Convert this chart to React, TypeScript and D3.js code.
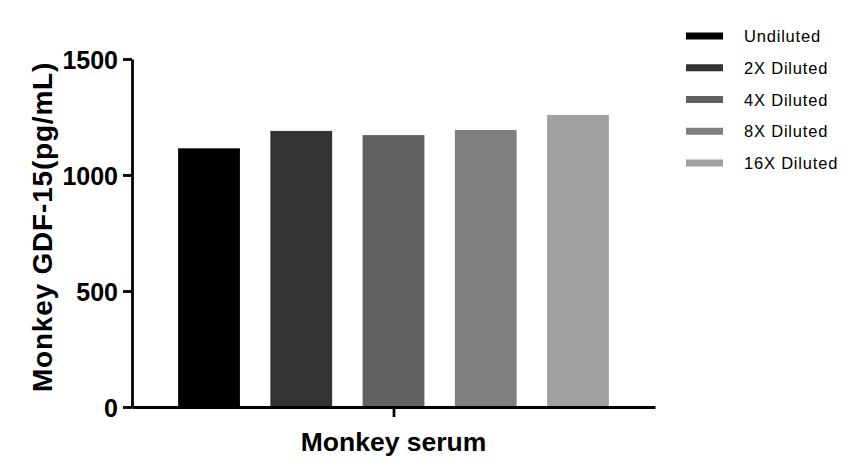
import React, { useEffect, useRef } from 'react';
import * as d3 from 'd3';

const groups = ['Undiluted', '2X Diluted', '4X Diluted', '8X Diluted', '16X Diluted'];
const values = [1115, 1190, 1172, 1194, 1259];
const colors = ['#000000', '#333333', '#616161', '#808080', '#a0a0a3'];
const yTicks = [0, 500, 1000, 1500];
const xTitle = 'Monkey serum';
const yTitle = 'Monkey GDF-15(pg/mL)';

const W = 866;
const H = 476;

const App: React.FC = () => {
  const ref = useRef<SVGSVGElement>(null);

  useEffect(() => {
    if (!ref.current) return;
    const svg = d3.select(ref.current);
    svg.selectAll('*').remove();

    const left = 132, right = 655, top = 59, bottom = 407;

    const y = d3.scaleLinear().domain([0, 1500]).range([bottom, top]);
    const x = d3.scaleBand<string>()
      .domain(groups)
      .range([left, right])
      .paddingInner(0.33)
      .paddingOuter(0.5);
    // single group on the x axis
    const xGroup = d3.scalePoint<string>().domain([xTitle]).range([left, right]).padding(0.5);

    // bars
    svg.append('g')
      .selectAll('rect')
      .data(groups)
      .enter().append('rect')
      .attr('x', d => x(d) || 0)
      .attr('y', (d, i) => y(values[i]))
      .attr('width', x.bandwidth())
      .attr('height', (d, i) => bottom - y(values[i]))
      .attr('fill', (d, i) => colors[i]);

    // y axis
    const yAxis = svg.append('g')
      .attr('transform', `translate(${left},0)`)
      .call(d3.axisLeft(y).tickValues(yTicks).tickFormat(d3.format('d')).tickSize(9).tickSizeOuter(0).tickPadding(5));
    yAxis.select('.domain').attr('stroke', '#000').attr('stroke-width', 2.8);
    yAxis.selectAll('.tick line').attr('stroke', '#000').attr('stroke-width', 2.8);
    yAxis.selectAll('.tick text')
      .attr('fill', '#000')
      .attr('font-family', '"Liberation Sans", Arial, sans-serif')
      .attr('font-weight', 'bold')
      .attr('font-size', '25px')
      .attr('dy', '0.36em');

    // x axis
    const xAxis = svg.append('g')
      .attr('transform', `translate(0,${bottom})`)
      .call(d3.axisBottom(xGroup).tickSize(10).tickSizeOuter(0).tickFormat(() => ''));
    xAxis.select('.domain').attr('stroke', '#000').attr('stroke-width', 2.8);
    xAxis.selectAll('.tick line').attr('stroke', '#000').attr('stroke-width', 2.8);

    // axis titles
    svg.append('text')
      .attr('x', xGroup(xTitle) || 0)
      .attr('y', 451)
      .attr('text-anchor', 'middle')
      .attr('font-family', '"Liberation Sans", Arial, sans-serif')
      .attr('font-weight', 'bold')
      .attr('font-size', '26.5px')
      .text(xTitle);

    svg.append('text')
      .attr('transform', `translate(52,${(top + bottom) / 2 - 6}) rotate(-90)`)
      .attr('text-anchor', 'middle')
      .attr('font-family', '"Liberation Sans", Arial, sans-serif')
      .attr('font-weight', 'bold')
      .attr('font-size', '28px')
      .attr('letter-spacing', '0.8px')
      .text(yTitle);

    // legend
    const ly = d3.scalePoint<string>().domain(groups).range([36, 163]);
    const legend = svg.append('g')
      .selectAll('g')
      .data(groups)
      .enter().append('g')
      .attr('transform', d => `translate(686,${ly(d)})`);
    legend.append('rect')
      .attr('x', 0)
      .attr('y', -3.5)
      .attr('width', 37)
      .attr('height', 7)
      .attr('fill', (d, i) => colors[i]);
    legend.append('text')
      .attr('x', 58)
      .attr('y', 6)
      .attr('font-family', '"Liberation Sans", Arial, sans-serif')
      .attr('font-size', '16.5px')
      .attr('letter-spacing', '0.8px')
      .attr('fill', '#000')
      .text(d => d);
  }, []);

  return (
    <svg
      ref={ref}
      width={W}
      height={H}
      style={{ position: 'absolute', left: 0, top: 0, background: '#fff' }}
    />
  );
};

export default App;
